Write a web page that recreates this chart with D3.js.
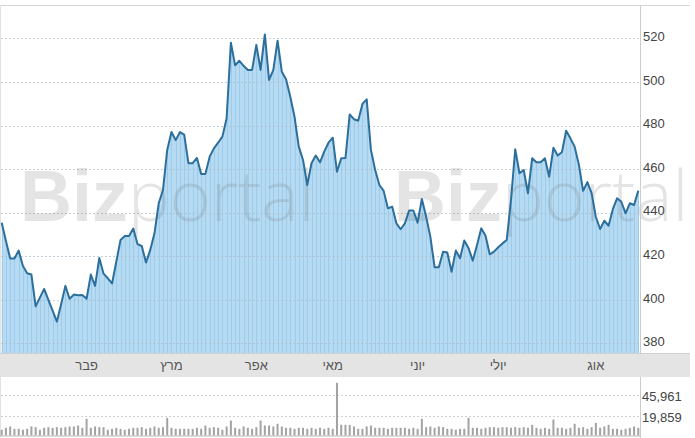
<!DOCTYPE html>
<html><head><meta charset="utf-8">
<script src="https://cdn.jsdelivr.net/npm/d3@7"></script>
<style>body{margin:0;background:#fff;} svg{display:block;}</style>
</head><body><svg id="c" width="695" height="438"></svg>
<script>
const prices = [435.4,427,419,419,422.6,415.5,412.2,411.6,397,401,
405,400,395,390,398,406.4,400.5,402.4,402.1,402.2,
400.5,411.6,406.4,419.2,412,409.9,407.5,417.5,427.5,429.3,
429.3,432.7,425.6,424.7,417.1,422.9,430.5,444.3,450.4,468.8,
477,473.3,477,475.8,462.7,462.7,465.1,457.8,457.8,465.7,
469.5,472.1,474.9,483.3,518,507.6,509.7,507.4,505.5,505.5,
517,505.5,521.8,500.9,505.5,518.9,504.7,501.2,493.2,484,
470.3,464.2,452.7,462.7,466.2,463.1,468,472.1,474.4,458.8,
465,465.1,485.1,482.9,482.2,489.9,492,468.8,459.6,452.7,
450,442,442.8,435.1,432.4,435.1,441,441,435.4,446.3,
438.2,429,415,415,422.1,421.7,412.9,422.6,419.1,427.2,
423.7,418,425.2,432.8,429.4,420.9,422.1,424.1,425.9,427.5,
445.8,469.1,458.1,459.6,448.9,465,463.1,463.1,465,456.5,
469.8,466.2,467.7,477.6,474.1,470.3,462,450,454,449,
438,432.5,436.3,434,441.6,446.6,445,439.7,444.3,443.5,
450.1];
const volumes = [1700,4200,5900,2900,2900,1700,2900,5900,5000,1700,
4200,5000,4200,5000,4200,5000,5900,5900,7100,4200,
15700,4200,5900,5000,5000,1700,2900,4200,2900,1700,
2900,4200,4200,5000,2900,4200,5900,4200,5000,16900,
4200,2900,2900,2900,2900,2900,4200,2900,7100,4200,
5000,4200,1700,5900,13500,4200,2900,5900,4200,2900,
5000,13500,7100,7100,5900,9300,5900,4200,4200,2900,
4200,4200,2900,4200,2900,4200,2900,4200,2900,61500,
8000,8000,8000,5900,2900,2900,5900,7100,4200,4200,
4200,2900,4200,4200,4200,4200,2900,4200,2900,15700,
5000,5900,4200,5900,5000,2900,2900,1700,2900,2900,
16900,4200,4200,2900,4200,5000,5000,4200,5000,5000,
4200,5000,4200,5000,4200,8000,4200,2900,4200,2900,
14800,4200,4200,2900,4200,9300,4200,5000,2900,5000,
10600,4200,5900,8000,2900,2900,1700,2900,4200,5900,
4200];
const monthTickIdx = [20,40,60,78,98,117,140];
const monthLabels = ["פבר","מרץ","אפר","מאי","יוני","יולי","אוג"];
const priceTicks = [380,400,420,440,460,480,500,520];
const volumeTicks = [19859,45961];

const svg = d3.select("#c");
const N = prices.length;
const plotTop = 5, plotBottom = 353, axisX = 640;
const volTop = 377, volBottom = 435.5;

const x = d3.scaleLinear().domain([0, N-1]).range([1.7, 638.3]);
const y = d3.scaleLinear().domain([375.6, 535.3]).range([plotBottom, plotTop]);
const yv = d3.scaleLinear().domain([-5600, 70800]).range([volBottom, 375.5]);

// borders
svg.append("line").attr("x1",0).attr("x2",690).attr("y1",5.5).attr("y2",5.5).attr("stroke","#d4d4d4");
svg.append("line").attr("x1",0.5).attr("x2",0.5).attr("y1",5).attr("y2",437).attr("stroke","#e2e2e2");

// area
const area = d3.area().x((d,i)=>x(i)).y0(plotBottom).y1(d=>y(d));
svg.append("path").datum(prices).attr("d",area).attr("fill","#b5daf2");
// stripes
svg.append("g").selectAll("line").data(prices).join("line")
  .attr("x1",(d,i)=>Math.round(x(i))+0.5).attr("x2",(d,i)=>Math.round(x(i))+0.5)
  .attr("y1",d=>y(d)+1).attr("y2",plotBottom)
  .attr("stroke","#9dcbea").attr("stroke-width",1);

// gridlines
const grid = svg.append("g");
grid.selectAll("line").data(priceTicks).join("line")
  .attr("x1",1).attr("x2",axisX).attr("y1",d=>Math.round(y(d))+0.5).attr("y2",d=>Math.round(y(d))+0.5)
  .attr("stroke","#a9bccb").attr("stroke-opacity",0.7).attr("stroke-dasharray","2,2");

// watermark
function watermark(x0){
  const t = svg.append("text").attr("x",x0).attr("y",221).attr("font-size",72)
    .attr("fill","#7a7a7a").attr("fill-opacity",0.2).attr("font-family","Liberation Sans, Arial, sans-serif");
  t.append("tspan").attr("font-weight","bold").text("Biz");
  t.append("tspan").attr("font-family","Open Sans, sans-serif").attr("font-weight",300).attr("font-size",70).text("portal");
}
watermark(20);
watermark(394);

// price line
const line = d3.line().x((d,i)=>x(i)).y(d=>y(d));
svg.append("path").datum(prices).attr("d",line).attr("fill","none")
  .attr("stroke","#2c6f9d").attr("stroke-width",2).attr("stroke-linejoin","round");

// x band
svg.append("rect").attr("x",0).attr("y",plotBottom).attr("width",690).attr("height",volTop-plotBottom).attr("fill","#e4e4e4");
svg.append("line").attr("x1",0).attr("x2",690).attr("y1",plotBottom+0.5).attr("y2",plotBottom+0.5).attr("stroke","#cfcfcf");

svg.append("g").selectAll("text").data(monthTickIdx).join("text")
  .attr("x",d=>x(d)).attr("y",369.5).attr("text-anchor","middle")
  .attr("font-family","Liberation Sans, Arial, sans-serif").attr("font-size",13).attr("fill","#555")
  .text((d,i)=>monthLabels[i]);

// right axis
svg.append("line").attr("x1",axisX+0.5).attr("x2",axisX+0.5).attr("y1",plotTop).attr("y2",plotBottom).attr("stroke","#cccccc");
svg.append("line").attr("x1",axisX+0.5).attr("x2",axisX+0.5).attr("y1",volTop).attr("y2",438).attr("stroke","#cccccc");
svg.append("g").selectAll("text").data(priceTicks).join("text")
  .attr("x",643).attr("y",d=>y(d)+2.8)
  .attr("font-family","Liberation Sans, Arial, sans-serif").attr("font-size",13).attr("fill","#444")
  .text(d=>d);

// volume panel
svg.append("g").selectAll("line").data(volumeTicks).join("line")
  .attr("x1",1).attr("x2",axisX).attr("y1",d=>Math.round(yv(d))+0.5).attr("y2",d=>Math.round(yv(d))+0.5)
  .attr("stroke","#c9d2d8").attr("stroke-dasharray","2,2");
svg.append("g").selectAll("rect").data(volumes).join("rect")
  .attr("x",(d,i)=>x(i)-1).attr("width",2)
  .attr("y",d=>yv(d)).attr("height",d=>volBottom-yv(d))
  .attr("fill","#a3a3a3");
svg.append("line").attr("x1",0).attr("x2",axisX).attr("y1",436).attr("y2",436).attr("stroke","#b5b5b5");
svg.append("g").selectAll("text").data(volumeTicks).join("text")
  .attr("x",642).attr("y",d=>yv(d)+6)
  .attr("font-family","Liberation Sans, Arial, sans-serif").attr("font-size",13).attr("fill","#444")
  .text(d=>d3.format(",")(d));
</script></body></html>
